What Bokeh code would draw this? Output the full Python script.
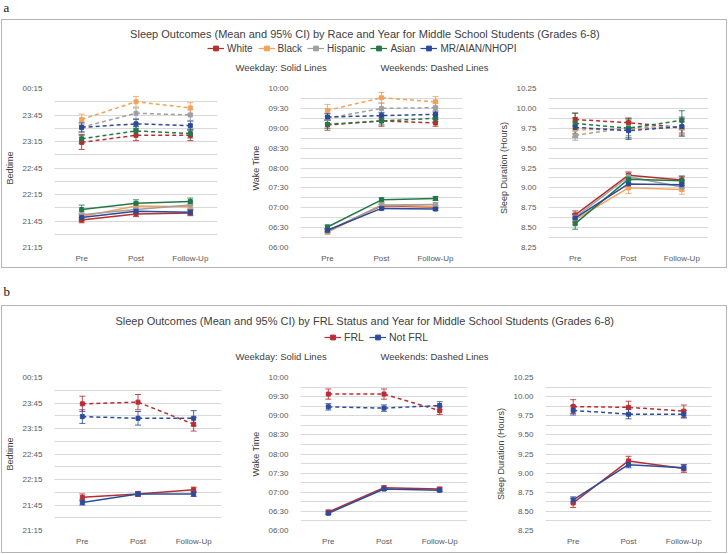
from bokeh.plotting import figure
from bokeh.models import (Range1d, FactorRange, FixedTicker, Whisker, ColumnDataSource,
                          Label, Legend, LegendItem, TeeHead, CustomJSTickFormatter,
                          NumeralTickFormatter)
from bokeh.layouts import column, row
from bokeh.embed import file_html
from bokeh.resources import INLINE

FONT = "Liberation Sans"
NAN = float("nan")

periods = ["Pre", "Post", "Follow-Up"]

# ---------------- Panel a: by race ----------------
race_groups = ["White", "Black", "Hispanic", "Asian", "MR/AIAN/NHOPI"]
race_colors = ["#B5302D", "#F4A259", "#A0A0A0", "#23784A", "#2C4A9A"]

race_bed_weekday = [
    ["21:46", "21:53", "21:54"],
    ["21:50", "22:02", "22:01"],
    ["21:52", "21:58", "22:03"],
    ["21:58", "22:05", "22:07"],
    ["21:49", "21:56", "21:55"],
]
race_bed_weekday_ci = [[3, 3, 3], [4, 4, 4], [4, 4, 4], [5, 4, 4], [3, 3, 3]]
race_bed_weekend = [
    ["23:14", "23:22", "23:22"],
    ["23:40", "00:00", "23:53"],
    ["23:31", "23:47", "23:45"],
    ["23:18", "23:27", "23:24"],
    ["23:31", "23:35", "23:33"],
]
race_bed_weekend_ci = [[8, 6, 6], [6, 6, 6], [6, 6, 6], [5, 5, 5], [5, 5, 5]]

race_wake_weekday = [
    ["06:25", "07:03", "07:01"],
    ["06:23", "07:04", "07:02"],
    ["06:24", "07:04", "07:05"],
    ["06:31", "07:12", "07:14"],
    ["06:26", "06:59", "06:58"],
]
race_wake_weekday_ci = [[2, 2, 2], [3, 3, 3], [3, 3, 3], [3, 3, 3], [2, 2, 2]]
race_wake_weekend = [
    ["09:05", "09:11", "09:08"],
    ["09:27", "09:46", "09:40"],
    ["09:15", "09:30", "09:31"],
    ["09:06", "09:11", "09:15"],
    ["09:17", "09:19", "09:21"],
]
race_wake_weekend_ci = [[8, 8, 5], [9, 8, 8], [8, 8, 7], [6, 6, 5], [5, 5, 5]]

race_sleep_weekday = [
    [8.66, 9.16, 9.10],
    [8.60, 9.00, 8.98],
    [8.63, 9.14, 9.01],
    [8.55, 9.11, 9.09],
    [8.62, 9.05, 9.04],
]
race_sleep_weekday_ci = [[0.05, 0.04, 0.04], [0.06, 0.07, 0.06], [0.05, 0.05, 0.05],
                         [0.07, 0.06, 0.06], [0.05, 0.05, 0.05]]
race_sleep_weekend = [
    [9.86, 9.82, 9.76],
    [9.73, 9.74, 9.76],
    [9.66, 9.76, 9.77],
    [9.81, 9.75, 9.85],
    [9.76, 9.72, 9.77],
]
race_sleep_weekend_ci = [[0.08, 0.06, 0.07], [0.10, 0.10, 0.10], [0.06, 0.10, 0.10],
                         [0.13, 0.12, 0.12], [0.12, 0.11, 0.12]]

# ---------------- Panel b: by FRL status ----------------
frl_groups = ["FRL", "Not FRL"]
frl_colors = ["#B92E34", "#2D4D9C"]

frl_bed_weekday = [["21:54", "21:58", "22:03"], ["21:48", "21:58", "21:58"]]
frl_bed_weekday_ci = [[4, 3, 3], [3, 2, 3]]
frl_bed_weekend = [["23:44", "23:46", "23:20"], ["23:29", "23:27", "23:27"]]
frl_bed_weekend_ci = [[9, 9, 8], [8, 8, 9]]

frl_wake_weekday = [["06:29", "07:07", "07:05"], ["06:27", "07:05", "07:03"]]
frl_wake_weekday_ci = [[3, 3, 3], [2, 2, 2]]
frl_wake_weekend = [["09:34", "09:34", "09:08"], ["09:14", "09:12", "09:16"]]
frl_wake_weekend_ci = [[8, 8, 6], [5, 5, 6]]

frl_sleep_weekday = [[8.61, 9.16, 9.06], [8.65, 9.11, 9.07]]
frl_sleep_weekday_ci = [[0.06, 0.06, 0.05], [0.04, 0.04, 0.04]]
frl_sleep_weekend = [[9.87, 9.86, 9.81], [9.82, 9.77, 9.77]]
frl_sleep_weekend_ci = [[0.09, 0.08, 0.08], [0.06, 0.06, 0.05]]


def clock(t, wrap):
    h, m = t.split(":")
    v = int(h) + int(m) / 60.0
    if wrap and v < 12:
        v += 24
    return v


TIME_FMT = CustomJSTickFormatter(code="""
const t = Math.round(tick * 60);
const h = Math.floor(t / 60) % 24;
const m = t % 60;
return String(h).padStart(2, '0') + ':' + String(m).padStart(2, '0');
""")


def build_series(vals_list, ci_list, colors, kind, dash):
    out = []
    for vals, cis, c in zip(vals_list, ci_list, colors):
        if kind == "bed":
            y = [clock(v, True) for v in vals]
            e = [ci / 60.0 for ci in cis]
        elif kind == "wake":
            y = [clock(v, False) for v in vals]
            e = [ci / 60.0 for ci in cis]
        else:
            y = list(vals)
            e = list(cis)
        out.append((y, e, c, dash))
    return out


def make_sub(ylabel, ylo, yhi, major_step, minor_step, fmt, series, width, left,
             right, top, frame_h, bottom):
    p = figure(width=width, height=top + frame_h + bottom,
               x_range=FactorRange(factors=periods, range_padding=0),
               y_range=Range1d(ylo, yhi),
               min_border_left=left, min_border_right=right,
               min_border_top=top, min_border_bottom=bottom,
               output_backend="svg", toolbar_location=None,
               outline_line_color=None)
    n_major = int(round((yhi - ylo) / major_step))
    n_minor = int(round((yhi - ylo) / minor_step))
    major = [ylo + i * major_step for i in range(n_major + 1)]
    minor = [ylo + i * minor_step for i in range(n_minor + 1)]
    p.yaxis.ticker = FixedTicker(ticks=major, minor_ticks=minor)
    p.yaxis.formatter = fmt
    for ax in (p.xaxis, p.yaxis):
        ax.axis_line_color = None
        ax.major_tick_line_color = None
        ax.minor_tick_line_color = None
        ax.major_label_text_font = FONT
        ax.major_label_text_font_size = "8px"
        ax.major_label_text_color = "#595959"
    p.yaxis.major_label_standoff = 6
    p.xaxis.major_label_standoff = 0
    p.yaxis.axis_label = ylabel
    p.yaxis.axis_label_text_font = FONT
    p.yaxis.axis_label_text_font_size = "9px"
    p.yaxis.axis_label_text_font_style = "normal"
    p.yaxis.axis_label_text_color = "#404040"
    p.yaxis.axis_label_standoff = 4
    p.xgrid.grid_line_color = None
    p.ygrid.grid_line_color = "#d9d9d9"
    p.ygrid.minor_grid_line_color = "#d9d9d9"
    for y, e, c, dash in series:
        src = ColumnDataSource(dict(x=periods, y=y,
                                    upper=[a + b for a, b in zip(y, e)],
                                    lower=[a - b for a, b in zip(y, e)]))
        p.add_layout(Whisker(source=src, base="x", upper="upper", lower="lower",
                             line_color=c, line_width=1, line_alpha=0.85,
                             upper_head=TeeHead(size=6, line_color=c, line_width=1, line_alpha=0.85),
                             lower_head=TeeHead(size=6, line_color=c, line_width=1, line_alpha=0.85)))
        p.line("x", "y", source=src, line_color=c, line_width=1.5, line_dash=dash)
        p.scatter("x", "y", source=src, marker="square", size=4,
                  fill_color=c, line_color=c)
    return p


def make_header(title, names, colors, width, height, title_x, title_y, legend_y,
                legend_x, legend_font, note_y, note_x):
    p = figure(width=width, height=height, x_range=Range1d(0, width),
               y_range=Range1d(0, height), x_axis_type=None, y_axis_type=None,
               min_border=0, output_backend="svg", toolbar_location=None,
               outline_line_color=None)
    p.add_layout(Label(x=title_x, y=height - title_y, text=title, text_align="center",
                       text_baseline="middle", text_font=FONT,
                       text_font_size="11px", text_color="#404040"))
    items = []
    for name, c in zip(names, colors):
        src = ColumnDataSource(dict(x=[NAN], y=[NAN]))
        r1 = p.line("x", "y", source=src, line_color=c, line_width=1.2)
        r2 = p.scatter("x", "y", source=src, marker="square", size=2.5,
                       fill_color=c, line_color=c)
        items.append(LegendItem(label=name, renderers=[r1, r2]))
    leg = Legend(items=items, orientation="horizontal",
                 location=(legend_x, height - legend_y - 6),
                 glyph_width=17, glyph_height=12, label_height=12,
                 label_standoff=3, spacing=5, padding=0, margin=0,
                 label_text_font=FONT, label_text_font_size=legend_font,
                 label_text_color="#404040", border_line_color=None,
                 background_fill_alpha=0)
    p.add_layout(leg)
    for x, txt in zip(note_x, ("Weekday: Solid Lines", "Weekends: Dashed Lines")):
        p.add_layout(Label(x=x, y=height - note_y, text=txt, text_align="left",
                           text_baseline="middle", text_font=FONT,
                           text_font_size="9.5px", text_color="#404040"))
    return p


def make_tag(letter, width, height, y_from_top):
    p = figure(width=width, height=height, x_range=Range1d(0, width),
               y_range=Range1d(0, height), x_axis_type=None, y_axis_type=None,
               min_border=0, output_backend="svg", toolbar_location=None,
               outline_line_color=None)
    p.add_layout(Label(x=2, y=height - y_from_top, text=letter,
                       text_font="Liberation Serif", text_font_size="13px",
                       text_baseline="middle", text_color="#111111"))
    return p


def panel(groups, colors, bw, bwci, be, beci, ww, wwci, we, weci, sw, swci, se, seci,
          title, hdr_h, title_y, legend_y, legend_x, legend_font, note_y,
          top, frame_h, bottom, geo):
    inner_w = sum(g[0] for g in geo)
    hdr = make_header(title, groups, colors, inner_w, hdr_h, 362.5, title_y, legend_y,
                      legend_x, legend_font, note_y, (233, 378))
    bed = (build_series(bw, bwci, colors, "bed", "solid") +
           build_series(be, beci, colors, "bed", "4 3"))
    wake = (build_series(ww, wwci, colors, "wake", "solid") +
            build_series(we, weci, colors, "wake", "4 3"))
    slp = (build_series(sw, swci, colors, "sleep", "solid") +
           build_series(se, seci, colors, "sleep", "4 3"))
    f1 = make_sub("Bedtime", 21.25, 24.25, 0.5, 0.25, TIME_FMT, bed,
                  geo[0][0], geo[0][1], geo[0][2], top, frame_h, bottom)
    f2 = make_sub("Wake Time", 6.0, 10.0, 0.5, 0.25, TIME_FMT, wake,
                  geo[1][0], geo[1][1], geo[1][2], top, frame_h, bottom)
    f3 = make_sub("Sleep Duration (Hours)", 8.25, 10.25, 0.25, 0.125,
                  NumeralTickFormatter(format="0.00"), slp,
                  geo[2][0], geo[2][1], geo[2][2], top, frame_h, bottom)
    return column(hdr, row(f1, f2, f3), styles={"border": "1px solid #b4b4b4"})


panel_a = panel(race_groups, race_colors,
                race_bed_weekday, race_bed_weekday_ci, race_bed_weekend, race_bed_weekend_ci,
                race_wake_weekday, race_wake_weekday_ci, race_wake_weekend, race_wake_weekend_ci,
                race_sleep_weekday, race_sleep_weekday_ci, race_sleep_weekend, race_sleep_weekend_ci,
                "Sleep Outcomes (Mean and 95% CI) by Race and Year for Middle School Students (Grades 6-8)",
                60, 13, 28, 205, "10px", 47, 8, 159, 20,
                [(241, 47, 26), (242, 57, 23), (241, 63, 18)])

panel_b = panel(frl_groups, frl_colors,
                frl_bed_weekday, frl_bed_weekday_ci, frl_bed_weekend, frl_bed_weekend_ci,
                frl_wake_weekday, frl_wake_weekday_ci, frl_wake_weekend, frl_wake_weekend_ci,
                frl_sleep_weekday, frl_sleep_weekday_ci, frl_sleep_weekend, frl_sleep_weekend_ci,
                "Sleep Outcomes (Mean and 95% CI) by FRL Status and Year for Middle School Students (Grades 6-8)",
                63, 14, 31, 322, "10.5px", 50, 8, 153, 22,
                [(241, 50, 22), (242, 57, 18), (241, 60, 15)])

layout = column(make_tag("a", 726, 18, 6), panel_a, make_tag("b", 726, 37, 23), panel_b,
                margin=(1, 0, 0, 1))

open("out.html", "w").write(file_html(layout, INLINE))
